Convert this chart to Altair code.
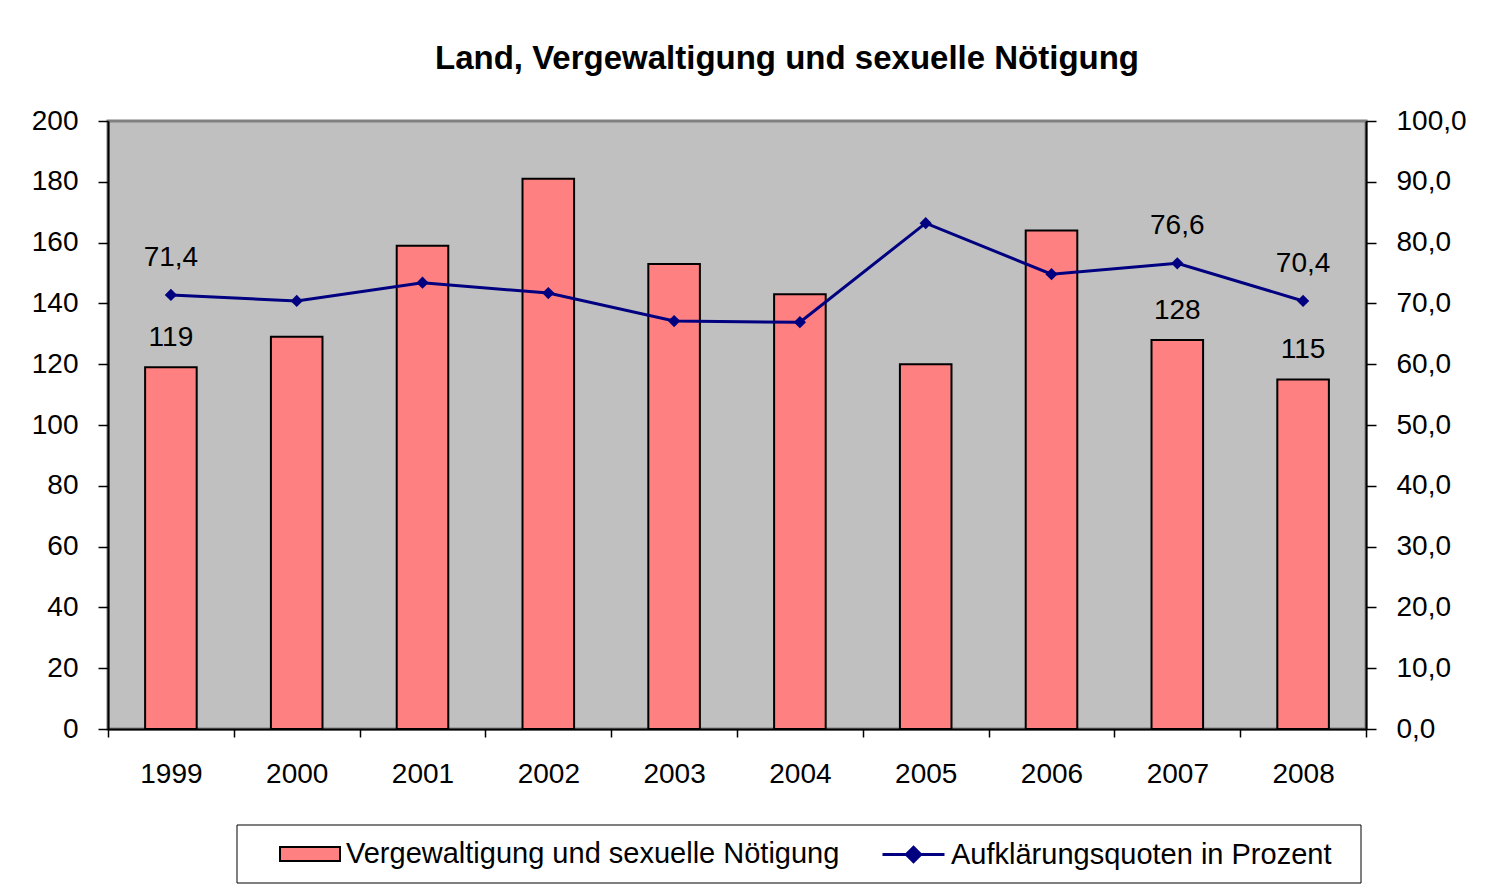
import altair as alt
import pandas as pd

years = ["1999", "2000", "2001", "2002", "2003", "2004", "2005", "2006", "2007", "2008"]
cases = [119, 129, 159, 181, 153, 143, 120, 164, 128, 115]
quote = [71.4, 70.4, 73.4, 71.7, 67.1, 66.9, 83.2, 74.8, 76.6, 70.4]
labeled = [True, False, False, False, False, False, False, False, True, True]
bar_name = "Vergewaltigung und sexuelle Nötigung"
line_name = "Aufklärungsquoten in Prozent"
title_text = "Land, Vergewaltigung und sexuelle Nötigung"

df = pd.DataFrame({
    "year": years, "cases": cases, "quote": quote, "labeled": labeled,
    "bar_series": bar_name, "line_series": line_name,
})

FONT = "Liberation Sans"
W, H = 1258, 608

base = alt.Chart(df)

x = alt.X("year:N", scale=alt.Scale(paddingInner=0, paddingOuter=0),
          axis=alt.Axis(title=None, labelAngle=0, tickBand="extent", tickSize=8,
                        tickColor="black", tickWidth=1.5, domainColor="black", domainWidth=2,
                        labelFont=FONT, labelFontSize=28, labelColor="black",
                        labelPadding=23, grid=False))

y_left = alt.Y("cases:Q", scale=alt.Scale(domain=[0, 200]),
               axis=alt.Axis(title=None, orient="left", values=list(range(0, 201, 20)),
                             tickSize=10, tickColor="black", tickWidth=1.5,
                             domainColor="black", domainWidth=2, grid=False,
                             labelFont=FONT, labelFontSize=28, labelColor="black",
                             labelPadding=20))

y_right = alt.Y("quote:Q", scale=alt.Scale(domain=[0, 100]),
                axis=alt.Axis(title=None, orient="right", values=list(range(0, 101, 10)),
                              labelExpr="replace(format(datum.value, '.1f'), '.', ',')",
                              tickSize=10, tickColor="black", tickWidth=1.5,
                              domainColor="black", domainWidth=2, grid=False,
                              labelFont=FONT, labelFontSize=28, labelColor="black",
                              labelPadding=20))

LEG_FONT_SIZE = 29

bars = base.mark_bar(stroke="black", strokeWidth=2, width=alt.RelativeBandSize(0.41)).encode(
    x=x, y=y_left,
    fill=alt.Fill("bar_series:N", scale=alt.Scale(range=["#FF8080"]),
                  legend=alt.Legend(title=None, orient="none", legendX=171, legendY=702,
                                    symbolType="M-1,-0.233H1V0.233H-1Z", symbolSize=3600,
                                    symbolStrokeColor="black", symbolStrokeWidth=2,
                                    symbolFillColor="#FF8080",
                                    labelFont=FONT, labelFontSize=LEG_FONT_SIZE,
                                    labelColor="black", labelLimit=900, labelOffset=5,
                                    padding=0)),
)

bar_text = base.transform_filter("datum.labeled").mark_text(
    dy=-29, fontSize=28, font=FONT, color="black", baseline="middle").encode(
    x=x, y=y_left, text=alt.Text("cases:Q"))

frame_df = pd.DataFrame({"k": [0]})
legend_box = alt.Chart(frame_df).mark_rect(
    fillOpacity=0, stroke="black", strokeWidth=1).encode(
    x=alt.value(129), x2=alt.value(1253), y=alt.value(704), y2=alt.value(762))

left = alt.layer(bars, bar_text, legend_box)

line = base.mark_line(strokeWidth=3).encode(
    x=x, y=y_right,
    stroke=alt.Stroke("line_series:N", scale=alt.Scale(range=["#000080"]),
                      legend=alt.Legend(title=None, orient="none", legendX=773, legendY=701,
                                        symbolType="M-1,0H1M0,-0.23L0.23,0L0,0.23L-0.23,0Z",
                                        symbolSize=3844, symbolStrokeColor="#000080",
                                        symbolFillColor="#000080", symbolStrokeWidth=3,
                                        labelFont=FONT, labelFontSize=LEG_FONT_SIZE,
                                        labelColor="black", labelLimit=900, labelOffset=5,
                                        padding=0)),
)

points = base.mark_point(shape="diamond", filled=True, size=150, color="#000080", opacity=1).encode(
    x=x, y=y_right)

line_text = base.transform_filter("datum.labeled").transform_calculate(
    qlabel="replace(format(datum.quote, '.1f'), '.', ',')").mark_text(
    dy=-37, fontSize=28, font=FONT, color="black", baseline="middle").encode(
    x=x, y=y_right, text="qlabel:N")

right = alt.layer(line, points, line_text)

chart = alt.layer(left, right).resolve_scale(
    y="independent", fill="independent", stroke="independent"
).properties(
    width=W, height=H,
    title=alt.Title(title_text, font=FONT, fontSize=33, fontWeight="bold", color="black",
                    offset=31, dx=50, anchor="middle"),
    autosize=alt.AutoSizeParams(type="none"),
    padding={"left": 100, "top": 113, "right": 110, "bottom": 160},
).configure_view(fill="#C0C0C0", stroke="#808080", strokeWidth=3)

chart.save("out.html", embed_options={"renderer": "svg", "actions": False})
